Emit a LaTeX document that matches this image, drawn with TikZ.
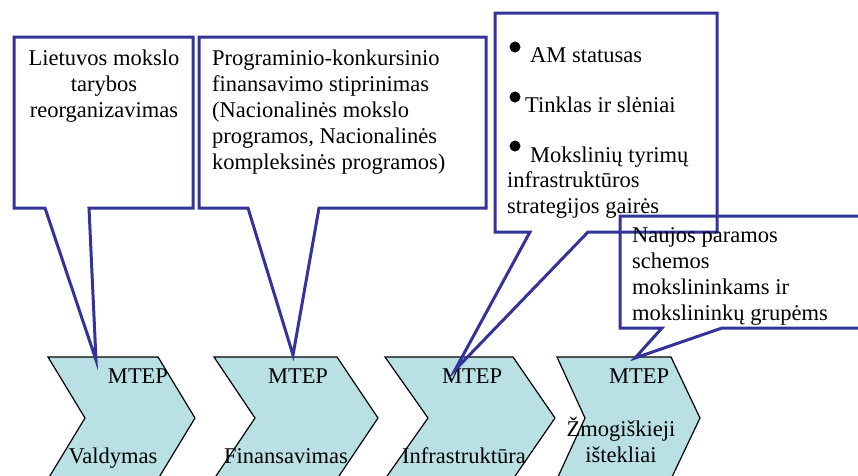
\documentclass[tikz,border=0pt]{standalone}
\usepackage{fontspec}
\setmainfont{Liberation Serif}
\usetikzlibrary{positioning}
\definecolor{boxblue}{RGB}{51,51,153}
\definecolor{chevcyan}{RGB}{185,224,228}

\begin{document}
\begin{tikzpicture}[x=1pt, y=-1pt,
        chevron/.style={draw=black, line width=1.2pt, fill=chevcyan},
        callout/.style={draw=boxblue, line width=3pt},
        lbl/.style={font=\fontsize{22.5}{26}\selectfont, inner sep=0pt, align=center, anchor=base},
        txt/.style={font=\fontsize{22.5}{26}\selectfont, inner sep=0pt, align=left, anchor=base west}]
            \useasboundingbox (0,0) rectangle (858,475);
            \clip (0,0) rectangle (858,475);

            % Process chevrons: left / top-right / tip / notch
            \foreach \i/\l/\r/\t/\n in {1/48/158/195/85, 2/214/337/378/255, 3/385/513/555/428, 4/557/671/700/585} {
                \draw[chevron] (\l,357) -- (\r,357) -- (\t,418) -- (\r,479) -- (\l,479) -- (\n,418) -- cycle;
            }
            \foreach \i/\x in {1/138, 2/298, 3/472, 4/639} {
                \node[lbl] (mtep\i) at (\x,383) {MTEP};
            }
            \node[lbl] (valdymas) at (113,463) {Valdymas};
            \node[lbl] (finansai) at (286,463) {Finansavimas};
            \node[lbl] (infra) at (464,463) {Infrastruktūra};
            % multi-line nodes sit on their last baseline
            \node[lbl] (zmones) at (621,462) {Žmogiškieji\\ištekliai};

            % Callout 1
            \draw[callout] (14,37) -- (193,37) -- (193,208) -- (89,208) -- (96,360) -- (45,208) -- (14,208) -- cycle;
            \node[lbl] (taryba) at (104,117) {Lietuvos mokslo\\tarybos\\reorganizavimas};

            % Callout 2
            \draw[callout] (199,37) -- (486,37) -- (486,208) -- (319,208) -- (293,355) -- (248,208) -- (199,208) -- cycle;
            \node[txt] (programos) at (212,169) {Programinio-konkursinio\\finansavimo stiprinimas\\(Nacionalinės mokslo\\programos, Nacionalinės\\kompleksinės programos)};

            % Callout 3 with bullets
            \draw[callout] (495,13) -- (717,13) -- (717,232) -- (588,232) -- (455,370) -- (530,232) -- (495,232) -- cycle;
            \foreach \y in {47, 97, 146} {
                \fill (515,\y) circle (5.5);
            }
            \node[txt] (am) at (530,62) {AM statusas};
            \node[txt] (tinklas) at (525,112) {Tinklas ir slėniai};
            \node[txt] (tyrimai) at (530,162) {Mokslinių tyrimų};
            \node[txt] (gaires) at (507,213) {infrastruktūros\\strategijos gairės};

            % Callout 4
            \draw[callout] (620,216) -- (880,216) -- (880,328) -- (722,328) -- (635,358) -- (662,328) -- (620,328) -- cycle;
            \node[txt] (schemos) at (632,320) {Naujos paramos\\schemos\\mokslininkams ir\\mokslininkų grupėms};
        \end{tikzpicture}
\end{document}
